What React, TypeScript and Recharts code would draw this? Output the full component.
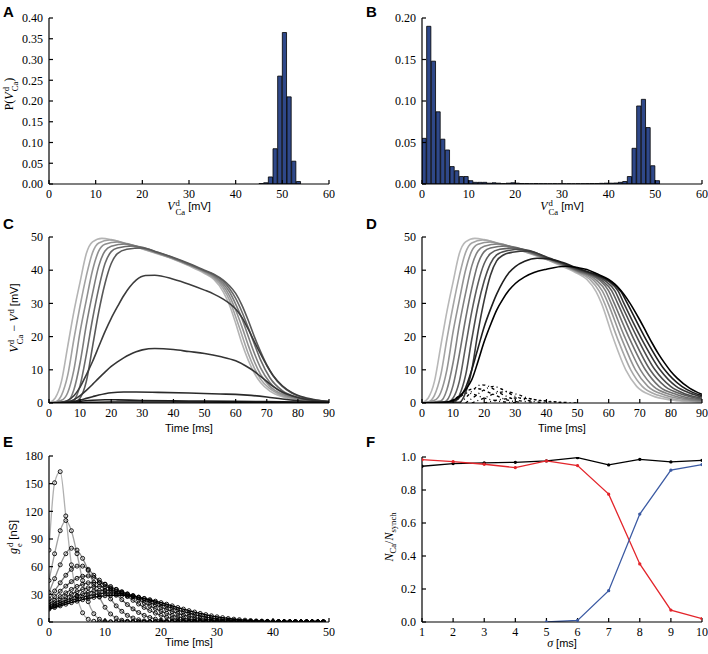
import React from "react";
import { BarChart, Bar, LineChart, Line, XAxis, YAxis } from "recharts";

const SERIF = '"Liberation Serif", "DejaVu Serif", serif';
const SANS = '"Liberation Sans", Arial, sans-serif';

// ---- A: distribution of V_Ca (1 mV bins, left edges) ----
const binsA = [45, 46, 47, 48, 49, 50, 51, 52, 53];
const probA = [0.001, 0.003, 0.017, 0.085, 0.26, 0.365, 0.21, 0.055, 0.006];

// ---- B ----
const binsB = [
  0, 1, 2, 3, 4, 5, 6, 7, 8, 9, 10, 11, 12, 13, 14, 15, 16, 17, 18, 19,
  20, 21, 22, 23, 24, 25, 26, 27, 28, 29, 30, 31, 32, 33, 34, 35, 36, 37, 38, 39,
  40, 41, 42, 43, 44, 45, 46, 47, 48, 49, 50,
];
const probB = [
  0.055, 0.19, 0.148, 0.087, 0.054, 0.041, 0.021, 0.016, 0.009, 0.009,
  0.004, 0.002, 0.002, 0.002, 0.001, 0.0015, 0.001, 0.0005, 0.001, 0.0015,
  0.001, 0.0005, 0.0005, 0.0003, 0.0005, 0.0003, 0.0003, 0.0002, 0.0003, 0.0002,
  0.0002, 0.0003, 0.0002, 0.0003, 0.0003, 0.0004, 0.0005, 0.0005, 0.0008, 0.001,
  0.001, 0.0012, 0.002, 0.003, 0.009, 0.043, 0.094, 0.102, 0.068, 0.022, 0.004,
];

// ---- C: V_Ca - V traces, [time ms, mV] ----
const tracesC = [
  [[0,0],[2,1.5],[4,6.5],[6,17],[8,27.5],[10,36.5],[12,45],[14,48.5],[17,49.6],[20,49.2],[25,47.8],[30,46.4],[35,44.9],[40,43.3],[45,41.3],[50,39],[53,37.2],[56,33.5],[58,29.5],[60,24],[62,18],[64,13],[66,9],[68,6.2],[71,3.6],[75,1.9],[80,0.9],[85,0.4],[90,0.15]],
  [[0,0],[2,0.3],[4,2.3],[6,8.3],[8,19.2],[10,29.3],[12,38.3],[14,45.3],[16,48.2],[19.5,49.1],[22,48.8],[25,47.9],[30,46.5],[35,45],[40,43.4],[45,41.5],[50,39.3],[53,37.6],[56,34.5],[58,31],[60,26],[62,20.5],[64,15],[66,10.5],[68,7.2],[71,4.3],[75,2.2],[80,1.1],[85,0.5],[90,0.2]],
  [[0,0],[4,0.8],[6,3.1],[8,10],[10,21.5],[12,31],[14,40],[16,45.8],[18,47.8],[22,48.5],[25,48],[30,46.6],[35,45.1],[40,43.5],[45,41.6],[50,39.5],[53,38],[56,35.3],[58,32.3],[60,28],[62,23],[64,17.5],[66,12.5],[68,8.6],[71,5],[75,2.6],[80,1.2],[85,0.55],[90,0.2]],
  [[0,0],[6,0.6],[8,4],[10,12.2],[12,23.5],[14,33],[16,41.3],[18,45.8],[20,47.2],[24.5,47.9],[30,46.7],[35,45.2],[40,43.6],[45,41.7],[50,39.7],[53,38.3],[56,36],[58,33.5],[60,29.8],[62,25.5],[64,20.2],[66,15],[68,10.6],[71,6.2],[75,3.1],[80,1.4],[85,0.6],[90,0.25]],
  [[0,0],[7,0.3],[8,0.8],[10,5.3],[12,14.6],[14,25.3],[16,34.6],[18,42],[20,45.6],[22,46.7],[27,47.3],[30,46.9],[35,45.3],[40,43.7],[45,41.8],[50,39.8],[53,38.6],[56,36.6],[58,34.5],[60,31.5],[62,27.5],[64,22.8],[66,17.8],[68,13],[71,7.6],[75,3.7],[80,1.6],[85,0.7],[90,0.3]],
  [[0,0],[8,0.1],[10,1.5],[12,6.5],[14,17],[16,27.5],[18,36],[20,42],[22,45],[25,46.3],[30,46.7],[35,45.4],[40,43.8],[45,42],[50,40],[53,38.8],[56,37],[58,35.3],[60,33],[62,29.5],[64,25],[66,20],[68,15.5],[70,11.5],[72,8.3],[75,5],[78,3],[82,1.5],[86,0.8],[90,0.4]],
  [[0,0],[4,0.2],[6,0.8],[8,2.2],[10,4.8],[12,8.5],[14,12.5],[16,17],[18,21.5],[20,25.5],[22,29],[24,32.3],[26,35],[28,37],[31,38.4],[34,38.5],[40,37.3],[45,35.8],[50,34],[53,32.8],[56,31.3],[58,30],[60,28.3],[62,25.8],[64,22.3],[66,18.5],[68,14.8],[70,11.3],[72,8.3],[75,5.2],[78,3.2],[82,1.7],[86,0.9],[90,0.45]],
  [[0,0],[4,0.1],[6,0.4],[8,1],[10,2.2],[12,3.8],[14,5.6],[16,7.5],[18,9.3],[20,11],[22,12.4],[24,13.6],[26,14.6],[28,15.4],[30,16],[34,16.4],[40,16.1],[45,15.5],[50,14.9],[55,14],[60,12.7],[63,11.3],[66,9.5],[68,8],[70,6.5],[72,5],[75,3.3],[78,2.2],[82,1.2],[86,0.7],[90,0.4]],
  [[0,0],[6,0.2],[8,0.5],[10,0.9],[12,1.4],[14,1.9],[16,2.4],[18,2.8],[20,3.1],[24,3.3],[28,3.3],[35,3.2],[45,3],[55,2.7],[60,2.6],[65,2.3],[70,1.8],[75,1.2],[80,0.7],[85,0.35],[90,0.2]],
  [[0,0],[6,0.1],[10,0.5],[14,0.85],[18,1],[22,0.95],[30,0.75],[40,0.65],[50,0.6],[60,0.5],[70,0.4],[80,0.3],[90,0.2]],
  [[0,0],[10,0.15],[20,0.3],[40,0.3],[60,0.25],[90,0.1]],
];
const graysC = ["#b4b4b4", "#a2a2a2", "#8f8f8f", "#7c7c7c", "#6a6a6a", "#585858", "#3c3c3c", "#343434", "#2a2a2a", "#1e1e1e", "#111111"];

// ---- D ----
const tracesD = [
  [[0,0],[2,1.5],[4,6.5],[6,17],[8,27.5],[10,36.5],[12,45],[14,48.5],[17,49.6],[20,49.2],[25,47.8],[30,46.4],[35,44.9],[40,43.2],[45,41.2],[50,39],[53,37.2],[56,33.5],[57.7,30],[61.3,20],[65.5,10],[69,5],[74,2.2],[80,0.9],[85,0.45],[90,0.2]],
  [[0,0],[2,0.3],[4,2.3],[6,8.3],[8,19.2],[10,29.3],[12,38.3],[14,45.3],[16,48.2],[19.5,49.1],[22,48.8],[25,47.9],[30,46.5],[35,45],[40,43.3],[45,41.4],[50,39.3],[54,37.2],[57,33.6],[58.7,30],[62.6,20],[67.1,10],[70.8,5],[76,2.3],[82,1],[90,0.3]],
  [[0,0],[4,0.8],[6,3.1],[8,10],[10,21.5],[12,31],[14,40],[16,45.8],[18,47.8],[22,48.5],[25,48],[30,46.6],[35,45.1],[40,43.4],[45,41.6],[50,39.5],[55,37.1],[58,33.7],[59.8,30],[63.9,20],[68.6,10],[72.6,5],[78,2.4],[84,1.1],[90,0.45]],
  [[0,0],[6,0.6],[8,4],[10,12.2],[12,23.5],[14,33],[16,41.3],[18,45.8],[20,47.2],[24.5,47.9],[30,46.7],[35,45.2],[40,43.5],[45,41.7],[50,39.7],[56,37],[59,33.8],[60.8,30],[65.1,20],[70.2,10],[74.4,5],[80,2.5],[86,1.1],[90,0.6]],
  [[0,0],[7,0.3],[8,0.8],[10,5.3],[12,14.6],[14,25.3],[16,34.6],[18,42],[20,45.6],[22,46.7],[27,47.3],[30,46.9],[35,45.3],[40,43.6],[45,41.8],[50,39.8],[57,37],[60,33.8],[61.8,30],[66.4,20],[71.8,10],[76.2,5],[82,2.5],[90,0.8]],
  [[0,0],[8,0.1],[10,1.5],[12,6.5],[14,17],[16,27.5],[18,36],[20,42],[22,45],[25,46.3],[30,46.7],[35,45.4],[40,43.7],[45,42],[50,40],[55,38.4],[58,36.8],[61,33.8],[62.9,30],[67.7,20],[73.3,10],[78.1,5],[84,2.5],[90,1.1]],
  [[0,0],[10,0.1],[12,2.3],[14,8.3],[16,19.2],[18,29.3],[20,36.8],[22,42],[24,44.6],[27,45.8],[32,46.3],[36,45.5],[40,43.8],[45,42.1],[50,40.2],[55,38.6],[59,36.7],[62,33.8],[63.9,30],[69,20],[74.9,10],[79.9,5],[85,2.6],[90,1.4]],
  [[0,0],[12,0.2],[14,3.1],[16,10],[18,21.4],[20,31],[22,38.5],[24,42.8],[26,44.5],[29,45.4],[34,45.8],[40,44],[45,42.2],[50,40.4],[55,38.8],[60,36.6],[63,33.8],[64.9,30],[70.2,20],[76.5,10],[81.7,5],[86,3],[90,1.8]],
  [[0,0],[8,0.2],[10,0.5],[12,1.6],[14,4.6],[16,10],[18,16.5],[20,23],[22,28.2],[24,32.8],[26,36.5],[28,39.3],[30,41.1],[33,42.7],[37,43.6],[40,43.5],[45,42.4],[50,40.6],[55,39],[60,36.9],[64,33.5],[66,30],[71.5,20],[78,10],[83.5,5],[87,3.2],[90,2.2]],
  [[0,0],[8,0.3],[10,0.8],[12,2],[14,4],[16,7],[18,12.5],[20,18.5],[22,23.5],[24,28],[26,31.3],[28,34],[30,36],[33,38],[36,39.3],[40,40.3],[46,41.2],[50,40.8],[53,40.2],[56,39],[60,37.2],[62,35.8],[64,33.8],[66,31.3],[68,28.3],[70,25],[72,21.5],[74,18],[76,14.8],[78,12],[80,9.5],[82,7.5],[86,4.5],[90,2.6]],
];
const graysD = ["#b8b8b8", "#a6a6a6", "#949494", "#828282", "#707070", "#5e5e5e", "#4c4c4c", "#383838", "#1e1e1e", "#000000"];
// sub-threshold responses (dash-dot)
const smallD = [
  [[8,0],[10,0.8],[12,2.2],[14,3],[16,2.8],[20,1.5],[25,0.5],[30,0.1]],
  [[10,0],[12,1.5],[14,3.2],[16,4.2],[18,4.3],[22,3],[27,1],[32,0.2]],
  [[12,0],[14,1.5],[16,3.5],[19,5.5],[21,5.2],[25,3],[30,1],[36,0.2]],
  [[14,0],[17,2],[20,4],[23,5],[26,4],[30,2],[35,0.6],[40,0.1]],
  [[16,0],[20,1.5],[24,3],[27,3.4],[30,2.8],[34,1.5],[40,0.5],[46,0.1]],
  [[20,0],[25,1],[30,1.5],[34,1.3],[38,0.8],[44,0.3],[50,0]],
];

// ---- E: dendritic conductance, sampled every 1 ms ----
const timeE = [
  0, 1, 2, 3, 4, 5, 6, 7, 8, 9, 10, 11, 12, 13, 14, 15, 16, 17, 18, 19, 20, 21, 22, 23, 24,
  25, 26, 27, 28, 29, 30, 31, 32, 33, 34, 35, 36, 37, 38, 39, 40, 41, 42, 43, 44, 45, 46, 47, 48, 49,
];
const gE1 = [78,151,163,115,62,28,10,3,0.8,0.2,0,0,0,0,0,0,0,0,0,0,0,0,0,0,0,0,0,0,0,0,0,0,0,0,0,0,0,0,0,0,0,0,0,0,0,0,0,0,0,0];
const gE2 = [45,74,99,110,99,74,45,22,9,3,0.8,0.2,0,0,0,0,0,0,0,0,0,0,0,0,0,0,0,0,0,0,0,0,0,0,0,0,0,0,0,0,0,0,0,0,0,0,0,0,0,0];
const gE3 = [32,47,62,74,80,78,69,56,41,27,16,8.7,4.2,1.9,0.8,0.3,0.1,0,0,0,0,0,0,0,0,0,0,0,0,0,0,0,0,0,0,0,0,0,0,0,0,0,0,0,0,0,0,0,0,0];
const gE4 = [25,33.6,42.5,50.7,57.1,60.6,60.6,57.1,50.7,42.5,33.6,25,17.5,11.6,7.2,4.3,2.4,1.2,0.6,0.3,0.1,0,0,0,0,0,0,0,0,0,0,0,0,0,0,0,0,0,0,0,0,0,0,0,0,0,0,0,0,0];
const gE5 = [22,27.6,33.4,38.9,43.8,47.4,49.6,49.9,48.5,45.4,41,35.7,29.9,24.2,18.9,14.2,10.3,7.2,4.9,3.1,2,1.2,0.7,0.4,0.2,0.1,0,0,0,0,0,0,0,0,0,0,0,0,0,0,0,0,0,0,0,0,0,0,0,0];
const gE6 = [19.5,23.5,27.6,31.6,35.3,38.5,40.9,42.5,43,42.5,40.9,38.5,35.3,31.6,27.6,23.5,19.5,15.8,12.5,9.6,7.3,5.3,3.8,2.7,1.8,1.2,0.8,0.5,0.3,0.2,0.1,0,0,0,0,0,0,0,0,0,0,0,0,0,0,0,0,0,0,0];
const gE7 = [17.5,20.7,23.9,27.1,30.2,32.9,35.3,37,38.1,38.5,38.1,37,35.3,32.9,30.2,27.1,23.9,20.7,17.5,14.6,11.9,9.5,7.4,5.7,4.3,3.2,2.3,1.6,1.1,0.8,0.5,0.3,0.2,0.1,0,0,0,0,0,0,0,0,0,0,0,0,0,0,0,0];
const gE8 = [16,18.5,21.1,23.7,26.2,28.5,30.5,32.2,33.5,34.2,34.5,34.2,33.5,32.2,30.5,28.5,26.2,23.7,21.1,18.5,16,13.6,11.4,9.4,7.6,6.1,4.8,3.7,2.9,2.1,1.6,1.2,0.8,0.6,0.4,0.3,0.2,0.1,0,0,0,0,0,0,0,0,0,0,0,0];
const gE9 = [15,17.1,19.2,21.3,23.3,25.3,27,28.6,29.8,30.7,31.3,31.5,31.3,30.7,29.8,28.6,27,25.3,23.3,21.3,19.2,17.1,15,13,11.2,9.5,7.9,6.5,5.4,4.3,3.4,2.7,2.1,1.6,1.2,0.9,0.7,0.5,0.4,0.3,0.2,0.1,0,0,0,0,0,0,0,0];
const gE10 = [14,15.7,17.5,19.3,21,22.6,24.2,25.6,26.7,27.7,28.4,28.9,29,28.9,28.4,27.7,26.7,25.6,24.2,22.6,21,19.3,17.5,15.7,14,12.3,10.8,9.3,8,6.7,5.6,4.7,3.8,3.1,2.5,2,1.6,1.2,1,0.7,0.6,0.4,0.3,0.2,0.2,0.1,0,0,0,0];
const seriesE = [gE1, gE2, gE3, gE4, gE5, gE6, gE7, gE8, gE9, gE10];
const graysE = ["#b0b0b0", "#a0a0a0", "#8c8c8c", "#787878", "#646464", "#505050", "#404040", "#2e2e2e", "#1c1c1c", "#000000"];

// ---- F: fraction of Ca spikes vs jitter ----
const sigma = [1, 2, 3, 4, 5, 6, 7, 8, 9, 10];
const fracBlack = [0.944, 0.96, 0.964, 0.968, 0.976, 0.996, 0.952, 0.986, 0.97, 0.98];
const fracRed = [0.984, 0.972, 0.956, 0.936, 0.976, 0.948, 0.775, 0.352, 0.072, 0.02];
const fracBlue = [null, null, null, null, 0, 0.01, 0.19, 0.654, 0.92, 0.954];

const ticks60 = [0, 10, 20, 30, 40, 50, 60];
const ticks90 = [0, 10, 20, 30, 40, 50, 60, 70, 80, 90];
const ticksPA = [0, 0.05, 0.1, 0.15, 0.2, 0.25, 0.3, 0.35, 0.4];
const ticksPB = [0, 0.05, 0.1, 0.15, 0.2];
const ticksV = [0, 10, 20, 30, 40, 50];
const ticksTE = [0, 10, 20, 30, 40, 50];
const ticksG = [0, 30, 60, 90, 120, 150, 180];
const ticksS = [1, 2, 3, 4, 5, 6, 7, 8, 9, 10];
const ticksF = [0, 0.2, 0.4, 0.6, 0.8, 1.0];

const edge = { stroke: "#000", strokeWidth: 1.2 };
const tickFont = { fontFamily: SERIF, fontSize: 12, fill: "#000" };

function frame(xd: number[], xt: number[], yd: number[], yt: number[], fy?: (v: number) => string) {
  return [
    <XAxis key="xb" xAxisId="b" dataKey="x" type="number" domain={xd} ticks={xt} interval={0} allowDataOverflow
      height={20} axisLine={edge} tickLine={edge} tickSize={-4} tickMargin={9} tick={tickFont} />,
    <XAxis key="xt" xAxisId="t" dataKey="x" type="number" orientation="top" domain={xd} ticks={xt} interval={0}
      allowDataOverflow height={0} axisLine={edge} tickLine={edge} tickSize={-4} tick={false} />,
    <YAxis key="yl" yAxisId="l" type="number" domain={yd} ticks={yt} interval={0} allowDataOverflow width={40}
      axisLine={edge} tickLine={edge} tickSize={-4} tickMargin={10} tick={tickFont} tickFormatter={fy} />,
    <YAxis key="yr" yAxisId="r" type="number" orientation="right" domain={yd} ticks={yt} interval={0}
      allowDataOverflow width={0} axisLine={edge} tickLine={edge} tickSize={-4} tick={false} />,
  ];
}

const pts = (tr: number[][]) => tr.map(([x, y]) => ({ x, y }));

function Box({ left, top, children }: any) {
  return <div style={{ position: "absolute", left, top }}>{children}</div>;
}

function Letter({ left, top, children }: any) {
  return (
    <div style={{ position: "absolute", left, top, fontFamily: SANS, fontWeight: "bold", fontSize: 15, lineHeight: 1 }}>
      {children}
    </div>
  );
}

function Lab({ cx, cy, rot, children }: any) {
  return (
    <div
      style={{
        position: "absolute", left: cx, top: cy, whiteSpace: "nowrap", lineHeight: 1, fontSize: 12,
        fontFamily: SERIF, transform: `translate(-50%, -50%)${rot ? " rotate(-90deg)" : ""}`,
      }}
    >
      {children}
    </div>
  );
}

// superscript stacked over subscript
function SupSub({ sup, sub }: { sup?: string; sub?: string }) {
  return (
    <span style={{ display: "inline-flex", flexDirection: "column", verticalAlign: 4, fontSize: "0.72em", lineHeight: 1.0, marginLeft: 1 }}>
      <span>{sup ?? "\u00a0"}</span>
      <span>{sub ?? "\u00a0"}</span>
    </span>
  );
}

const Sub = ({ children }: any) => (
  <span style={{ fontSize: "0.72em", verticalAlign: -3 }}>{children}</span>
);

const VCa = () => (
  <span>
    <i>V</i>
    <SupSub sup="d" sub="Ca" />
  </span>
);

const Unit = ({ children }: any) => <span style={{ fontFamily: SANS, fontSize: 11 }}>{children}</span>;

export default function App() {
  const histA = binsA.map((b, i) => ({ x: b + 0.5, p: probA[i] }));
  const histB = binsB.map((b, i) => ({ x: b + 0.5, p: probB[i] }));
  const rowsE = timeE.map((t, i) => {
    const r: any = { x: t };
    seriesE.forEach((s, k) => (r["g" + k] = s[i]));
    return r;
  });
  const rowsF = sigma.map((s, i) => ({ x: s, k: fracBlack[i], r: fracRed[i], b: fracBlue[i] }));
  const f2 = (v: number) => v.toFixed(2);
  const f1 = (v: number) => v.toFixed(1);

  return (
    <div style={{ position: "absolute", left: 0, top: 0, width: 708, height: 654, background: "#fff", overflow: "hidden" }}>
      <Box left={0} top={0}>
        <BarChart width={354} height={210} data={histA} margin={{ top: 18, right: 25, bottom: 6, left: 9 }} barGap={0}>
          {frame([0, 60], ticks60, [0, 0.4], ticksPA, f2)}
          <Bar dataKey="p" xAxisId="b" yAxisId="l" barSize={4.67} fill="#2f4889" stroke="#000" strokeWidth={0.8} isAnimationActive={false} />
        </BarChart>
      </Box>
      <Box left={354} top={0}>
        <BarChart width={354} height={210} data={histB} margin={{ top: 18, right: 6, bottom: 6, left: 28 }} barGap={0}>
          {frame([0, 60], ticks60, [0, 0.2], ticksPB, f2)}
          <Bar dataKey="p" xAxisId="b" yAxisId="l" barSize={4.67} fill="#2f4889" stroke="#000" strokeWidth={0.8} isAnimationActive={false} />
        </BarChart>
      </Box>
      <Box left={0} top={210}>
        <LineChart width={354} height={220} margin={{ top: 27, right: 25, bottom: 7, left: 9 }}>
          {frame([0, 90], ticks90, [0, 50], ticksV)}
          {tracesC.map((tr, i) => (
            <Line key={i} data={pts(tr)} dataKey="y" xAxisId="b" yAxisId="l" type="monotone" stroke={graysC[i]}
              strokeWidth={1.6} dot={false} isAnimationActive={false} />
          ))}
        </LineChart>
      </Box>
      <Box left={354} top={210}>
        <LineChart width={354} height={220} margin={{ top: 27, right: 6, bottom: 7, left: 28 }}>
          {frame([0, 90], ticks90, [0, 50], ticksV)}
          {smallD.map((tr, i) => (
            <Line key={"s" + i} data={pts(tr)} dataKey="y" xAxisId="b" yAxisId="l" type="monotone" stroke="#000"
              strokeWidth={1.3} strokeDasharray="3 3 1 3" dot={false} isAnimationActive={false} />
          ))}
          {tracesD.map((tr, i) => (
            <Line key={i} data={pts(tr)} dataKey="y" xAxisId="b" yAxisId="l" type="monotone" stroke={graysD[i]}
              strokeWidth={1.6} dot={false} isAnimationActive={false} />
          ))}
        </LineChart>
      </Box>
      <Box left={0} top={430}>
        <LineChart width={354} height={224} data={rowsE} margin={{ top: 26, right: 25, bottom: 12, left: 9 }}>
          {frame([0, 50], ticksTE, [0, 180], ticksG)}
          {seriesE.map((_, i) => (
            <Line key={i} dataKey={"g" + i} xAxisId="b" yAxisId="l" type="monotone" stroke={graysE[i]} strokeWidth={1.3}
              dot={{ r: 2, fill: "none", stroke: "#000", strokeWidth: 0.9 }} isAnimationActive={false} />
          ))}
        </LineChart>
      </Box>
      <Box left={354} top={430}>
        <LineChart width={354} height={224} data={rowsF} margin={{ top: 27, right: 6, bottom: 12, left: 28 }}>
          {frame([1, 10], ticksS, [0, 1], ticksF, f1)}
          <Line dataKey="k" xAxisId="b" yAxisId="l" stroke="#000" strokeWidth={1.3} dot={{ r: 1, fill: "#000", stroke: "#000" }} isAnimationActive={false} />
          <Line dataKey="r" xAxisId="b" yAxisId="l" stroke="#e3252b" strokeWidth={1.3} dot={{ r: 1, fill: "#e3252b", stroke: "#e3252b" }} isAnimationActive={false} />
          <Line dataKey="b" xAxisId="b" yAxisId="l" stroke="#3b5aa3" strokeWidth={1.3} dot={{ r: 1, fill: "#3b5aa3", stroke: "#3b5aa3" }} isAnimationActive={false} />
        </LineChart>
      </Box>

      <Letter left={3} top={4}>A</Letter>
      <Letter left={366} top={4}>B</Letter>
      <Letter left={3} top={216}>C</Letter>
      <Letter left={366} top={216}>D</Letter>
      <Letter left={3} top={434}>E</Letter>
      <Letter left={366} top={434}>F</Letter>

      <Lab cx={189} cy={208}><VCa /> <Unit>[mV]</Unit></Lab>
      <Lab cx={562} cy={208}><VCa /> <Unit>[mV]</Unit></Lab>
      <Lab cx={11} cy={94} rot>P(<VCa />)</Lab>
      <Lab cx={16} cy={318} rot><VCa /> − <i>V</i><SupSub sup="d" /> <Unit>[mV]</Unit></Lab>
      <Lab cx={189} cy={428}><Unit>Time [ms]</Unit></Lab>
      <Lab cx={562} cy={428}><Unit>Time [ms]</Unit></Lab>
      <Lab cx={15} cy={537} rot><i>g</i><SupSub sup="d" sub="e" /> <Unit>[nS]</Unit></Lab>
      <Lab cx={189} cy={642}><Unit>Time [ms]</Unit></Lab>
      <Lab cx={390} cy={537} rot><i>N</i><Sub>Ca</Sub>/<i>N</i><Sub>synch</Sub></Lab>
      <Lab cx={562} cy={643}><i>σ</i> <Unit>[ms]</Unit></Lab>
    </div>
  );
}
